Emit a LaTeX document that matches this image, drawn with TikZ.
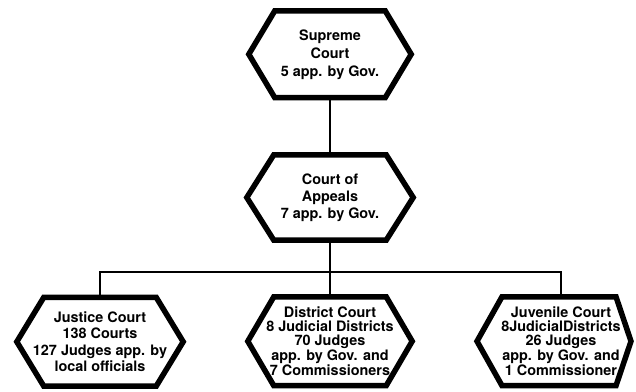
\documentclass[tikz,border=0pt]{standalone}
\usepackage{fontspec}
\setmainfont{TeX Gyre Heros}
\usetikzlibrary{calc}
\tikzset{
  hexline/.style={line width=5.5pt, line join=miter, miter limit=12},
  conn/.style={line width=1.8pt},
  hexbox/.style={inner sep=0pt, align=center, font=\bfseries\fontsize{14.4}{#1}\selectfont},
}
\newcommand{\hexdraw}[2]{% node name, inset
  \draw[hexline] (#1.west) -- ([xshift=#2]#1.north west) -- ([xshift=-#2]#1.north east)
    -- (#1.east) -- ([xshift=-#2]#1.south east) -- ([xshift=#2]#1.south west) -- cycle;}
\begin{document}
\begin{tikzpicture}[x=1pt,y=-1pt]
\useasboundingbox (0,0) rectangle (636,391);
\fill[white] (0,0) rectangle (636,391);
% nodes
\node[hexbox=18, minimum width=162pt, minimum height=86.5pt] (sup) at (330,54.25)
  {Supreme\\Court\\5 app. by Gov.};
\node[hexbox=17, minimum width=166pt, minimum height=85pt] (app) at (330,197.5)
  {Court of\\Appeals\\7 app. by Gov.};
\node[hexbox=16.5, minimum width=166pt, minimum height=88.5pt] (jus) at (100,341.75)
  {Justice Court\\138 Courts\\127 Judges app. by\\local officials};
\node[hexbox=13.8, minimum width=164pt, minimum height=88.5pt] (dis) at (330,341.25)
  {District Court\\8 Judicial Districts\\70 Judges\\app. by Gov. and\\7 Commissioners};
\node[hexbox=13.8, minimum height=88.5pt] (juv) at (561,341.25)
  {Juvenile Court\\8JudicialDistricts\\26 Judges\\app. by Gov. and\\1 Commissioner};
\coordinate (bus) at (330,272);
% hexagons
\hexdraw{sup}{26pt}
\hexdraw{app}{27pt}
\hexdraw{jus}{27pt}
\hexdraw{dis}{26pt}
\draw[hexline] ([xshift=-84pt]juv.center) -- ([xshift=-59pt]juv.north) -- ([xshift=55pt]juv.north)
  -- ([xshift=70pt]juv.center) -- ([xshift=55pt]juv.south) -- ([xshift=-59pt]juv.south) -- cycle;
% connectors
\draw[conn] (sup.south) -- (app.north);
\draw[conn] (app.south) -- (bus);
\draw[conn] (juv.north) |- (bus) -| (jus.north);
\draw[conn] (dis.north) -- (bus);
\end{tikzpicture}
\end{document}
